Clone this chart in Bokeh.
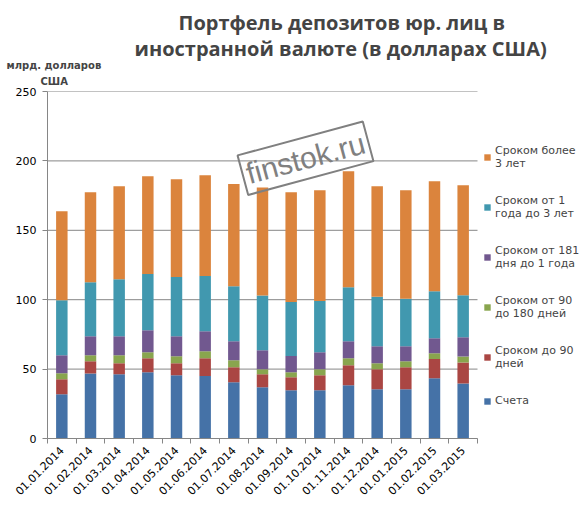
import math
from bokeh.plotting import figure
from bokeh.models import (ColumnDataSource, Range1d, FixedTicker, Legend, LegendItem,
                          Label, Title)
from bokeh.embed import file_html
from bokeh.resources import INLINE

# Monthly snapshots (billion USD)
dates = ["01.01.2014", "01.02.2014", "01.03.2014", "01.04.2014", "01.05.2014",
         "01.06.2014", "01.07.2014", "01.08.2014", "01.09.2014", "01.10.2014",
         "01.11.2014", "01.12.2014", "01.01.2015", "01.02.2015", "01.03.2015"]
accounts = [31.9, 46.8, 46.3, 47.8, 45.6, 45.1, 40.6, 37.0, 34.8, 34.8, 38.4, 35.5, 35.5, 43.4, 39.6]
upto_90 = [10.8, 8.9, 7.9, 10.1, 8.6, 12.8, 10.8, 9.3, 9.4, 10.8, 14.4, 14.4, 15.9, 13.8, 15.2]
d90_180 = [4.3, 4.3, 5.8, 4.3, 5.1, 5.0, 5.0, 3.6, 3.6, 4.3, 5.1, 4.3, 4.3, 4.3, 4.3]
d181_1y = [13.0, 13.7, 13.7, 15.8, 14.4, 14.4, 13.7, 13.7, 11.6, 12.3, 12.2, 12.3, 10.8, 10.8, 13.9]
y1_3 = [39.6, 38.9, 41.1, 40.5, 42.6, 39.8, 39.6, 39.5, 39.0, 36.9, 38.8, 35.6, 34.1, 33.8, 30.2]
over_3y = [64.2, 64.8, 67.0, 70.5, 70.5, 72.6, 73.6, 77.7, 79.0, 79.8, 83.7, 79.7, 78.3, 79.3, 79.3]

series_names = ["Счета", "Сроком до 90\nдней", "Сроком от 90\nдо 180 дней",
                "Сроком от 181\nдня до 1 года", "Сроком от 1\nгода до 3 лет",
                "Сроком более\n3 лет"]
colors = ["#4572A7", "#AA4643", "#89A54E", "#71588F", "#4198AF", "#DB843D"]
y_ticks = [0, 50, 100, 150, 200, 250]

title_lines = ["Портфель депозитов юр. лиц в", "иностранной валюте (в долларах США)"]
unit_lines = ["млрд. долларов", "США"]

keys = ["s0", "s1", "s2", "s3", "s4", "s5"]
n = len(dates)
centers = [i + 0.5 for i in range(n)]
source = ColumnDataSource(dict(x=centers, s0=accounts, s1=upto_90, s2=d90_180,
                               s3=d181_1y, s4=y1_3, s5=over_3y))

grid_color = "#868686"
font = "DejaVu Sans"

# The plot area runs to the right edge so the legend can sit beside the bars;
# the category axis itself covers only the first n slots.
x_end = n * (585 - 47) / 430
p = figure(width=585, height=516, output_backend="svg", toolbar_location=None,
           x_range=Range1d(0, x_end), y_range=Range1d(0, 250),
           min_border_left=47, min_border_right=0, min_border_top=91,
           min_border_bottom=78)
p.outline_line_color = None
p.grid.grid_line_color = None

# horizontal gridlines across the category span only
p.segment(x0=[0] * len(y_ticks), x1=[n] * len(y_ticks), y0=y_ticks, y1=y_ticks,
          line_color=grid_color, line_width=1)

renderers = p.vbar_stack(keys, x="x", width=0.4, color=colors, line_color=None,
                         source=source)

# x axis: ticks between categories, labels under the bars
xa = p.xaxis[0]
xa.bounds = (0, n)
xa.ticker = FixedTicker(ticks=centers, minor_ticks=list(range(n + 1)))
xa.major_label_overrides = {c: d for c, d in zip(centers, dates)}
xa.major_label_orientation = math.pi / 4
xa.major_tick_line_color = None
xa.minor_tick_line_color = grid_color
xa.minor_tick_in = 0
xa.minor_tick_out = 5
xa.axis_line_color = grid_color
xa.major_label_text_font = font
xa.major_label_text_font_size = "11px"
xa.major_label_text_color = "black"
xa.major_label_standoff = 4

ya = p.yaxis[0]
ya.ticker = FixedTicker(ticks=y_ticks)
ya.axis_line_color = grid_color
ya.major_tick_line_color = grid_color
ya.major_tick_in = 0
ya.major_tick_out = 5
ya.minor_tick_line_color = None
ya.major_label_text_font = font
ya.major_label_text_font_size = "11px"
ya.major_label_text_color = "black"
ya.major_label_standoff = 6

# Legend beside the bars, longest maturity on top
items = [LegendItem(label=nm, renderers=[r]) for nm, r in zip(series_names, renderers)][::-1]
legend = Legend(items=items, location=(436, 31), border_line_color=None,
                background_fill_alpha=0, glyph_width=8, glyph_height=8,
                label_text_font=font, label_text_font_size="11px",
                spacing=24, padding=0, margin=0, label_standoff=4)
p.add_layout(legend, "center")

# Unit caption and title, stacked upwards from the plot area
p.add_layout(Title(text=unit_lines[1], align="left", offset=-7, standoff=9,
                   text_font=font, text_font_style="bold", text_font_size="10px"),
             "above")
p.add_layout(Title(text=unit_lines[0], align="left", offset=-41, standoff=-2,
                   text_font=font, text_font_style="bold", text_font_size="10px"),
             "above")
p.add_layout(Title(text=title_lines[1], align="left", offset=87, standoff=-6,
                   text_font="Open Sans", text_font_style="bold",
                   text_font_size="20px"), "above")
p.add_layout(Title(text=title_lines[0], align="left", offset=131, standoff=-1,
                   text_font="Open Sans", text_font_style="bold",
                   text_font_size="20px"), "above")

# Site stamp
p.add_layout(Label(x=9.0, y=201.9, text="finstok.ru", angle=15.1 * math.pi / 180,
                   text_align="center", text_baseline="middle",
                   text_font="Liberation Sans", text_font_size="30px",
                   text_color="#808080", border_line_color="#808080",
                   border_line_width=2, padding=4))

open("out.html", "w").write(file_html(p, INLINE))
